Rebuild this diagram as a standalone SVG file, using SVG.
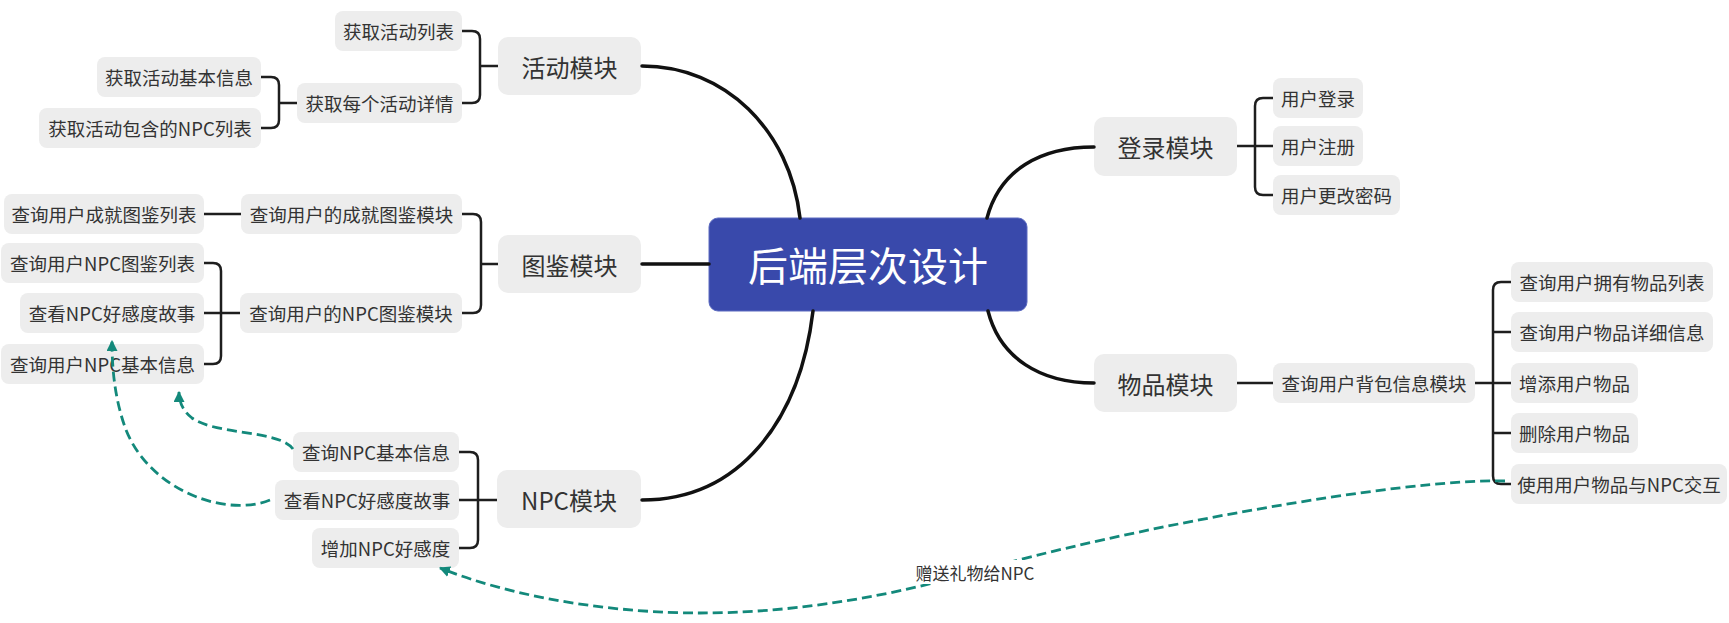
<svg xmlns="http://www.w3.org/2000/svg" width="1729" height="623" viewBox="0 0 1729 623">
<defs>
<style>
.n rect{fill:#ededed;}
.n text{font-family:"Noto Sans CJK SC","Noto Sans",sans-serif;font-size:18.5px;fill:#333;text-anchor:middle;dominant-baseline:central;}
.m text{font-size:24px;}
.c rect{fill:#3949ab;stroke:#5c6bc0;stroke-width:1;}
.c text{font-family:"Noto Sans CJK SC","Noto Sans",sans-serif;font-size:40px;fill:#fff;text-anchor:middle;dominant-baseline:central;}
.main{fill:none;stroke:#111;stroke-width:3.5;stroke-linecap:round;}
.br{fill:none;stroke:#1e1e1e;stroke-width:2.5;}
.rel{fill:none;stroke:#13897b;stroke-width:2.8;stroke-dasharray:10 5;}
.lbl{font-family:"Noto Sans CJK SC","Noto Sans",sans-serif;font-size:17px;fill:#333;text-anchor:middle;dominant-baseline:central;}
</style>
<marker id="ah" viewBox="0 0 10 10" refX="9" refY="5" markerWidth="11" markerHeight="11" markerUnits="userSpaceOnUse" orient="auto">
<path d="M0,0 L10,5 L0,10 z" fill="#13897b"/>
</marker>
</defs>
<rect width="1729" height="623" fill="#fff"/>

<g id="center" class="c"><rect x="709" y="218" width="318" height="93" rx="9"/><text x="868" y="264">后端层次设计</text></g>

<g id="m-huodong" class="n m"><rect x="498" y="37" width="143" height="58" rx="10"/><text x="569.5" y="66">活动模块</text></g>
<g id="m-tujian" class="n m"><rect x="498" y="235" width="143" height="58" rx="10"/><text x="569.5" y="264">图鉴模块</text></g>
<g id="m-npc" class="n m"><rect x="497" y="470" width="144" height="58" rx="10"/><text x="569" y="499">NPC模块</text></g>
<g id="m-denglu" class="n m"><rect x="1094" y="117" width="143" height="59" rx="10"/><text x="1165.5" y="146.5">登录模块</text></g>
<g id="m-wupin" class="n m"><rect x="1094" y="354" width="143" height="58" rx="10"/><text x="1165.5" y="383">物品模块</text></g>

<g id="n1" class="n"><rect x="335" y="11" width="127" height="40" rx="8"/><text x="398.5" y="31">获取活动列表</text></g>
<g id="n2" class="n"><rect x="297" y="83" width="165" height="40" rx="8"/><text x="379.5" y="103">获取每个活动详情</text></g>
<g id="n3" class="n"><rect x="97" y="57" width="164" height="40" rx="8"/><text x="179" y="77">获取活动基本信息</text></g>
<g id="n4" class="n"><rect x="39" y="108" width="222" height="40" rx="8"/><text x="150" y="128">获取活动包含的NPC列表</text></g>
<g id="n5" class="n"><rect x="241" y="194" width="221" height="40" rx="8"/><text x="351.5" y="214">查询用户的成就图鉴模块</text></g>
<g id="n6" class="n"><rect x="240" y="293" width="222" height="40" rx="8"/><text x="351" y="313">查询用户的NPC图鉴模块</text></g>
<g id="n7" class="n"><rect x="4" y="194" width="200" height="40" rx="8"/><text x="104" y="214">查询用户成就图鉴列表</text></g>
<g id="n8" class="n"><rect x="1" y="243" width="203" height="40" rx="8"/><text x="102.5" y="263">查询用户NPC图鉴列表</text></g>
<g id="n9" class="n"><rect x="20" y="293" width="184" height="40" rx="8"/><text x="112" y="313">查看NPC好感度故事</text></g>
<g id="n10" class="n"><rect x="1" y="344" width="203" height="40" rx="8"/><text x="102.5" y="364">查询用户NPC基本信息</text></g>
<g id="n11" class="n"><rect x="293" y="432" width="166" height="40" rx="8"/><text x="376" y="452">查询NPC基本信息</text></g>
<g id="n12" class="n"><rect x="275" y="480" width="184" height="40" rx="8"/><text x="367" y="500">查看NPC好感度故事</text></g>
<g id="n13" class="n"><rect x="312" y="528" width="147" height="40" rx="8"/><text x="385.5" y="548">增加NPC好感度</text></g>

<g id="n14" class="n"><rect x="1273" y="78" width="90" height="40" rx="8"/><text x="1318" y="98">用户登录</text></g>
<g id="n15" class="n"><rect x="1273" y="126" width="90" height="40" rx="8"/><text x="1318" y="146">用户注册</text></g>
<g id="n16" class="n"><rect x="1273" y="175" width="127" height="40" rx="8"/><text x="1336.5" y="195">用户更改密码</text></g>
<g id="n17" class="n"><rect x="1273" y="363" width="202" height="40" rx="8"/><text x="1374" y="383">查询用户背包信息模块</text></g>
<g id="n18" class="n"><rect x="1511" y="262" width="202" height="40" rx="8"/><text x="1612" y="282">查询用户拥有物品列表</text></g>
<g id="n19" class="n"><rect x="1511" y="312" width="202" height="40" rx="8"/><text x="1612" y="332">查询用户物品详细信息</text></g>
<g id="n20" class="n"><rect x="1511" y="363" width="127" height="40" rx="8"/><text x="1574.5" y="383">增添用户物品</text></g>
<g id="n21" class="n"><rect x="1511" y="413" width="127" height="40" rx="8"/><text x="1574.5" y="433">删除用户物品</text></g>
<g id="n22" class="n"><rect x="1511" y="464" width="216" height="40" rx="8"/><text x="1619" y="484">使用用户物品与NPC交互</text></g>

<g id="connectors">
<path class="main" d="M642,66 C725,66 790,130 800,218"/>
<path class="main" d="M642,264 H709"/>
<path class="main" d="M813,311 C800,420 740,500 642,500"/>
<path class="main" d="M987,218 C1000,170 1040,147 1094,147"/>
<path class="main" d="M988,311 C1000,358 1040,383 1094,383"/>
<path class="br" d="M498,66 H480 M462,31 H472 Q480,31 480,39 V95 Q480,103 472,103 H462"/>
<path class="br" d="M297,103 H279 M261,77 H271 Q279,77 279,85 V120 Q279,128 271,128 H261"/>
<path class="br" d="M498,264 H481 M462,214 H473 Q481,214 481,222 V305 Q481,313 473,313 H462"/>
<path class="br" d="M241,214 H204"/>
<path class="br" d="M240,313 H204 M204,263 H213 Q221,263 221,271 V356 Q221,364 213,364 H204"/>
<path class="br" d="M497,500 H459 M459,452 H470 Q478,452 478,460 V540 Q478,548 470,548 H459"/>
<path class="br" d="M1237,146 H1273 M1273,98 H1263 Q1255,98 1255,106 V187 Q1255,195 1263,195 H1273"/>
<path class="br" d="M1237,383 H1273"/>
<path class="br" d="M1475,383 H1511 M1511,332 H1493 M1511,433 H1493 M1511,282 H1501 Q1493,282 1493,290 V476 Q1493,484 1501,484 H1511"/>
<path class="rel" d="M293,449 C280,430 215,435 192,418 C183,411 179,402 179,392" marker-end="url(#ah)"/>
<path class="rel" d="M270,500 C225,518 150,490 126,430 C115,400 112,370 112,341" marker-end="url(#ah)"/>
<path class="rel" d="M1505,481 C1400,478 1120,530 974,572 C874,601 780,613 700,613 C620,613 520,600 440,568" marker-end="url(#ah)"/>
<rect x="912" y="560" width="126" height="24" fill="#fff"/>
<text class="lbl" x="975" y="572">赠送礼物给NPC</text>
</g>
</svg>
